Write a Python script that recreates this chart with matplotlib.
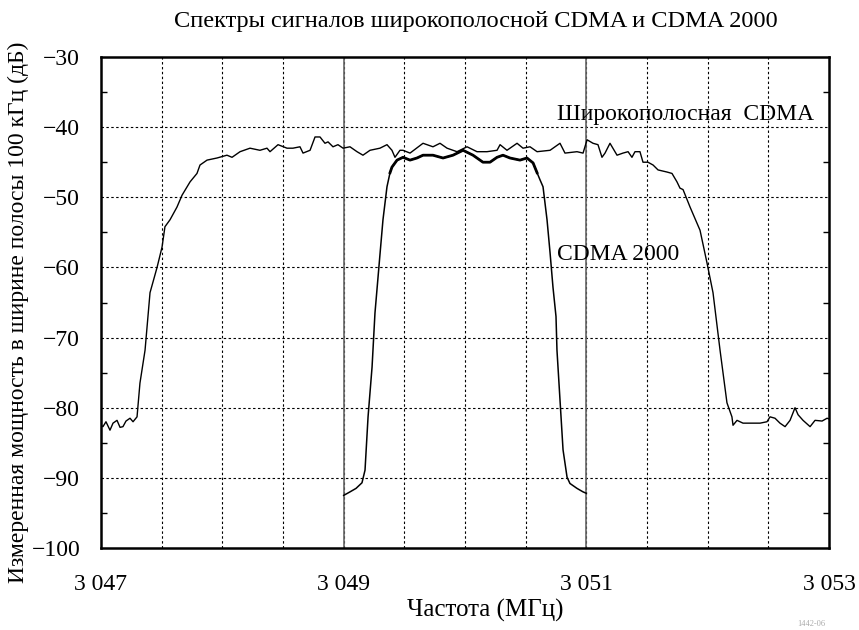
import matplotlib
matplotlib.use("Agg")
import matplotlib.pyplot as plt
import numpy as np
from matplotlib.ticker import MultipleLocator, FuncFormatter

# Wideband CDMA spectrum (frequency MHz, level dB)
wb_freq = [3047.000, 3047.016, 3047.041, 3047.074, 3047.099, 3047.132, 3047.157, 3047.181,
           3047.206, 3047.239, 3047.264, 3047.297, 3047.321, 3047.363, 3047.404, 3047.462,
           3047.503, 3047.527, 3047.569, 3047.626, 3047.668, 3047.734, 3047.791, 3047.816,
           3047.874, 3047.956, 3048.038, 3048.080, 3048.146, 3048.228, 3048.310, 3048.368,
           3048.393, 3048.459, 3048.533, 3048.582, 3048.640, 3048.665, 3048.723, 3048.764,
           3048.805, 3048.846, 3048.871, 3048.912, 3048.953, 3048.995, 3049.052, 3049.110,
           3049.159, 3049.217, 3049.299, 3049.357, 3049.398, 3049.423, 3049.464, 3049.489,
           3049.547, 3049.654, 3049.736, 3049.794, 3049.852, 3049.934, 3050.017, 3050.099,
           3050.181, 3050.264, 3050.289, 3050.346, 3050.429, 3050.478, 3050.536, 3050.594,
           3050.701, 3050.783, 3050.824, 3050.923, 3050.973, 3051.006, 3051.055, 3051.096,
           3051.129, 3051.154, 3051.195, 3051.253, 3051.302, 3051.344, 3051.376, 3051.401,
           3051.442, 3051.467, 3051.508, 3051.550, 3051.591, 3051.665, 3051.706, 3051.747,
           3051.772, 3051.797, 3051.855, 3051.937, 3051.995, 3052.044, 3052.102, 3052.159,
           3052.200, 3052.209, 3052.242, 3052.291, 3052.374, 3052.432, 3052.489, 3052.514,
           3052.555, 3052.596, 3052.638, 3052.679, 3052.720, 3052.745, 3052.786, 3052.844,
           3052.885, 3052.943, 3052.984, 3053.000]
wb_level = [-82.5, -82.7, -82.0, -83.2, -82.2, -81.8, -82.8, -82.7,
            -81.9, -81.5, -82.0, -81.3, -76.5, -71.8, -63.6, -60.0,
            -57.1, -54.2, -53.2, -51.4, -49.7, -47.8, -46.6, -45.4,
            -44.7, -44.4, -44.0, -44.3, -43.5, -43.0, -43.3, -43.0,
            -43.5, -42.5, -43.0, -43.0, -42.8, -43.7, -43.3, -41.4,
            -41.4, -42.3, -42.1, -42.8, -42.5, -43.0, -42.8, -43.5,
            -44.0, -43.3, -43.0, -42.5, -43.3, -44.3, -43.3, -43.3,
            -43.7, -42.3, -42.8, -42.3, -43.0, -43.5, -42.8, -43.5,
            -43.5, -43.3, -42.5, -43.3, -42.3, -43.0, -42.8, -43.5,
            -43.3, -42.3, -43.7, -43.5, -43.7, -41.8, -42.3, -42.5,
            -44.3, -43.7, -42.3, -44.0, -43.7, -43.5, -44.3, -43.5,
            -43.5, -45.0, -45.0, -45.4, -46.1, -46.4, -46.6, -47.8,
            -48.7, -48.9, -51.4, -54.7, -59.4, -63.6, -71.8, -79.3,
            -81.3, -82.5, -81.8, -82.2, -82.2, -82.2, -82.0, -81.3,
            -81.5, -82.2, -82.7, -81.8, -80.0, -81.0, -81.8, -82.7,
            -81.8, -81.9, -81.5, -81.6]

# CDMA 2000 spectrum
c2k_freq = [3049.000, 3049.052, 3049.102, 3049.151, 3049.176, 3049.201, 3049.234, 3049.258,
            3049.300, 3049.324, 3049.357, 3049.382, 3049.398, 3049.440, 3049.489, 3049.547,
            3049.604, 3049.654, 3049.736, 3049.819, 3049.901, 3049.984, 3050.066, 3050.148,
            3050.206, 3050.264, 3050.313, 3050.371, 3050.453, 3050.511, 3050.561, 3050.594,
            3050.618, 3050.643, 3050.676, 3050.701, 3050.725, 3050.750, 3050.758, 3050.783,
            3050.808, 3050.841, 3050.865, 3050.923, 3050.973, 3051.000]
c2k_level = [-92.5, -92.0, -91.5, -90.7, -88.9, -81.3, -74.2, -66.5,
             -58.0, -53.2, -48.5, -46.5, -45.7, -44.7, -44.3, -44.7,
             -44.4, -44.0, -44.0, -44.4, -44.0, -43.3, -44.0, -45.0,
             -45.0, -44.3, -44.0, -44.4, -44.7, -44.4, -45.1, -46.5,
             -47.5, -48.5, -53.2, -57.9, -62.8, -67.0, -71.8, -78.9,
             -86.0, -89.9, -90.8, -91.5, -92.0, -92.2]

carrier_edges = [3049.0, 3051.0]
x_tick_vals = [3047, 3049, 3051, 3053]
x_tick_labels = ["3 047", "3 049", "3 051", "3 053"]
y_tick_vals = [-100, -90, -80, -70, -60, -50, -40, -30]

title = "Спектры сигналов широкополосной CDMA и CDMA 2000"
xlabel = "Частота (МГц)"
ylabel = "Измеренная мощность в ширине полосы 100 кГц (дБ)"
label_wb = "Широкополосная  CDMA"
label_c2k = "CDMA 2000"

plt.rcParams['font.family'] = ['Liberation Serif', 'DejaVu Serif']
plt.rcParams['axes.unicode_minus'] = True
FS = 17

fig = plt.figure(figsize=(8.59, 6.30), dpi=100)
ax = fig.add_axes([101/859, 1-548/630, 728/859, 491/630])

ax.set_xlim(3047, 3053)
ax.set_ylim(-100, -30)

# grid
for gx in np.arange(3047.5, 3053.0, 0.5):
    ax.axvline(gx, color='black', lw=0.8, ls=(0, (2.2, 2.2)), zorder=1)
for gy in y_tick_vals[1:-1]:
    ax.axhline(gy, color='black', lw=0.8, ls=(0, (2.2, 2.2)), zorder=1)
for ex in carrier_edges:
    ax.axvline(ex, color='#666666', lw=1.2, zorder=2)

ax.plot(wb_freq, wb_level, color='black', lw=1.0, zorder=3)
ax.plot(c2k_freq, c2k_level, color='black', lw=1.1, zorder=3)
pb = slice(11, 32)
ax.plot(c2k_freq[pb], c2k_level[pb], color='black', lw=2.0, zorder=3)

ax.text(3050.758, -38.2, label_wb, fontsize=FS, va='center', ha='left')
ax.text(3050.758, -58.1, label_c2k, fontsize=FS, va='center', ha='left')

ax.set_xticks(x_tick_vals)
ax.set_xticklabels(x_tick_labels)
ax.set_yticks(y_tick_vals)
ax.yaxis.set_major_formatter(FuncFormatter(lambda v, p: f"{int(v)}".replace('-', '\u2212')))
ax.yaxis.set_minor_locator(MultipleLocator(5))
ax.tick_params(axis='x', which='both', length=0, pad=19, labelsize=FS)
ax.tick_params(axis='y', which='major', direction='out', length=0, pad=15, labelsize=FS)
ax.tick_params(axis='y', which='minor', direction='in', length=4, width=1.0, left=True, right=True)

for s in ax.spines.values():
    s.set_linewidth(1.8)

fig.text(476/859, 1-22/630, title, ha='center', va='center', fontsize=17.6)
fig.text(485/859, 1-610/630, xlabel, ha='center', va='center', fontsize=18)
fig.text(18/859, 1-312/630, ylabel, ha='center', va='center', fontsize=FS, rotation=90)
fig.text(0.945, 0.003, "1442-06", ha='center', va='bottom', fontsize=6, color='#aaaaaa')

fig.savefig("out.png", dpi=100)
